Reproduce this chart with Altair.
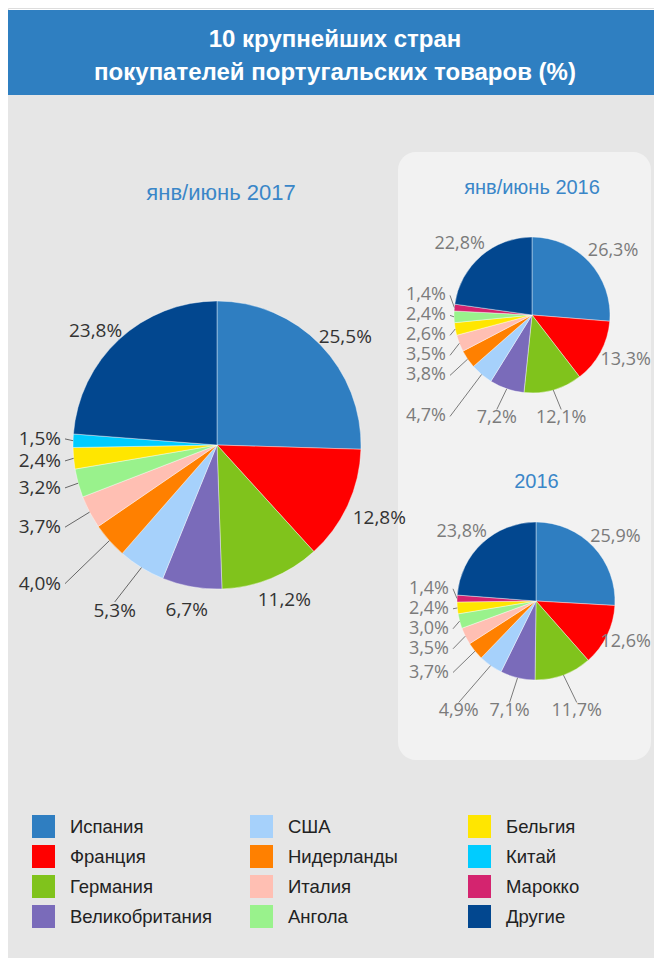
import math
import altair as alt
import pandas as pd

# ---------------- data ----------------
countries = ["Испания", "Франция", "Германия", "Великобритания", "США", "Нидерланды",
             "Италия", "Ангола", "Бельгия", "Китай", "Марокко", "Другие"]
colors = ["#2f7ec1", "#ff0000", "#80c31c", "#7a6bba", "#a6d1fb", "#ff8000",
          "#ffbfb3", "#99f28c", "#ffe600", "#00ccff", "#d4246f", "#02478f"]

# shares (%) aligned with `countries`; None = not among the top 10 for that period
share_h1_2017 = [25.5, 12.8, 11.2, 6.7, 5.3, 4.0, 3.7, 3.2, 2.4, 1.5, None, 23.8]
share_h1_2016 = [26.3, 13.3, 12.1, 7.2, 4.7, 3.8, 3.5, 2.4, 2.6, None, 1.4, 22.8]
share_2016 = [25.9, 12.6, 11.7, 7.1, 4.9, 3.7, 3.5, 3.0, 2.4, None, 1.4, 23.8]

pie_titles = ["янв/июнь 2017", "янв/июнь 2016", "2016"]
header_lines = ["10 крупнейших стран", "покупателей португальских товаров (%)"]

# ---------------- layout / style ----------------
W, H = 646, 950
pies = [
    dict(name=pie_titles[0], shares=share_h1_2017, cx=209, cy=437, r=144, T=6, fs=19,
         gap=8, dy=5, side_m=12, bottom_m=22, spacing=22, tcolor="#333333", lcolor="#666666"),
    dict(name=pie_titles[1], shares=share_h1_2016, cx=524, cy=307, r=78, T=13, fs=18,
         gap=7, dy=0, side_m=8, bottom_m=25, spacing=20, tcolor="#7b7b7b", lcolor="#7b7b7b"),
    dict(name=pie_titles[2], shares=share_2016, cx=528, cy=593, r=79, T=12, fs=18,
         gap=5, dy=0, side_m=8, bottom_m=31, spacing=20, tcolor="#7b7b7b", lcolor="#7b7b7b"),
]


def fmt(v):
    return f"{v:.1f}".replace(".", ",") + "%"


def text_w(s, fs):
    w = 0.0
    for ch in s:
        if ch.isdigit():
            w += 0.572 * fs
        elif ch == ",":
            w += 0.258 * fs
        elif ch == "%":
            w += 0.838 * fs
        else:
            w += 0.5 * fs
    return w


def distribute(items, s):
    if not items:
        return
    groups = [[o] for o in items]

    def start(g):
        m = sum(o["ly0"] for o in g) / len(g)
        return m - (len(g) - 1) * s / 2

    merged = True
    while merged:
        merged = False
        for i in range(len(groups) - 1):
            if start(groups[i]) + len(groups[i]) * s > start(groups[i + 1]):
                groups[i] = groups[i] + groups.pop(i + 1)
                merged = True
                break
    for g in groups:
        st = start(g)
        for k, o in enumerate(g):
            o["ly"] = st + k * s


slice_rows, label_rows, line_rows = [], [], []
for p in pies:
    items = [(c, v) for c, v in zip(countries, p["shares"]) if v is not None]
    others = [it for it in items if it[0] == "Другие"]
    top = sorted([it for it in items if it[0] != "Другие"], key=lambda t: -t[1])
    ordered = top + others
    total = sum(v for _, v in ordered)
    cx, cy, r, fs = p["cx"], p["cy"], p["r"], p["fs"]
    cum = 0.0
    recs = []
    for k, (c, v) in enumerate(ordered):
        slice_rows.append(dict(pie=p["name"], country=c, value=v, order=k))
        a = (cum + v / 2) / total * 2 * math.pi
        cum += v
        ux, uy = math.sin(a), -math.cos(a)
        lab = fmt(v)
        w, h = text_w(lab, fs), fs + 1
        rec = dict(pie=p["name"], label=lab, tcolor=p["tcolor"], fs=fs, w=w, h=h,
                   rx=cx + r * ux, ry=cy + r * uy, edge=None)
        if v >= p["T"]:
            R = r + p["gap"]
            lx = cx + R * ux + w / 2 * ux
            lx = min(max(lx, w / 2 + 3), W - 3 - w / 2)   # keep inside the canvas
            rec.update(lx=lx, ly=cy + R * uy + h / 2 * uy + p["dy"], align="center")
        else:
            xl, xr = cx - r - p["side_m"], cx + r + p["side_m"]
            yb, yt = cy + r + p["bottom_m"], cy - r - p["bottom_m"]
            ts = []
            if ux < -1e-9:
                ts.append(((cx - xl) / -ux, "W"))
            if ux > 1e-9:
                ts.append(((xr - cx) / ux, "E"))
            if uy > 1e-9:
                ts.append(((yb - cy) / uy, "S"))
            if uy < -1e-9:
                ts.append(((cy - yt) / -uy, "N"))
            t, edge = min(ts)
            if edge == "W":
                rec.update(lx=xl, ly=cy + t * uy, align="right")
            elif edge == "E":
                rec.update(lx=xr, ly=cy + t * uy, align="left")
            elif edge == "S":
                rec.update(lx=cx + t * ux, ly=yb, align="center")
            else:
                rec.update(lx=cx + t * ux, ly=yt, align="center")
            rec["edge"] = edge
        rec["ly0"] = rec["ly"]
        recs.append(rec)
    for side in ("W", "E"):
        distribute(sorted([o for o in recs if o["edge"] == side], key=lambda o: o["ly0"]),
                   p["spacing"])
    for o in recs:
        label_rows.append(dict(pie=o["pie"], label=o["label"], lx=o["lx"], ly=o["ly"],
                               align=o["align"], tcolor=o["tcolor"], fs=o["fs"]))
        if o["edge"] is not None:
            if o["edge"] == "W":
                ex, ey = o["lx"] + 4, o["ly"]
            elif o["edge"] == "E":
                ex, ey = o["lx"] - 4, o["ly"]
            elif o["edge"] == "S":
                ex, ey = o["lx"], o["ly"] - o["h"] / 2 + 1
            else:
                ex, ey = o["lx"], o["ly"] + o["h"] / 2
            line_rows.append(dict(pie=o["pie"], x1=o["rx"], y1=o["ry"], x2=ex, y2=ey,
                                  lcolor=p["lcolor"]))

slices = pd.DataFrame(slice_rows)
labels = pd.DataFrame(label_rows)
lines = pd.DataFrame(line_rows)
one = pd.DataFrame({"k": [1]})

px_x = alt.Scale(domain=[0, W], range=[0, W], nice=False, zero=False)
px_y = alt.Scale(domain=[0, H], range=[0, H], nice=False, zero=False)

# ---------------- background ----------------
bg_header = alt.Chart(one).mark_rect(color="#2f7fc1").encode(
    x=alt.value(0), x2=alt.value(W), y=alt.value(2), y2=alt.value(87))
bg_body = alt.Chart(one).mark_rect(color="#e6e6e6").encode(
    x=alt.value(0), x2=alt.value(W), y=alt.value(87), y2=alt.value(H))
panel = alt.Chart(one).mark_rect(color="#f2f2f2", cornerRadius=18).encode(
    x=alt.value(390), x2=alt.value(643), y=alt.value(144), y2=alt.value(752))

head1 = alt.Chart(one).mark_text(font="Liberation Sans", fontSize=24, fontWeight="bold",
                                 color="white", align="center", baseline="alphabetic").encode(
    x=alt.value(327), y=alt.value(38.5), text=alt.value(header_lines[0]))
head2 = alt.Chart(one).mark_text(font="Liberation Sans", fontSize=24, fontWeight="bold",
                                 color="white", align="center", baseline="alphabetic").encode(
    x=alt.value(327), y=alt.value(72), text=alt.value(header_lines[1]))

title_pos = [(213, 192, 22), (524, 186, 20), (528.5, 480, 20)]
titles = [
    alt.Chart(one).mark_text(font="Liberation Sans", fontSize=tfs, color="#3a86c8",
                             align="center", baseline="alphabetic").encode(
        x=alt.value(tx), y=alt.value(ty), text=alt.value(t))
    for t, (tx, ty, tfs) in zip(pie_titles, title_pos)
]

# ---------------- pies ----------------
color_enc = alt.Color(
    "country:N",
    scale=alt.Scale(domain=countries, range=colors),
    legend=alt.Legend(
        title=None, orient="none", legendX=24, legendY=807, columns=3, direction="vertical",
        symbolType="square", symbolSize=529, symbolStrokeWidth=0, symbolOpacity=1,
        labelFont="Liberation Sans", labelFontSize=18.5, labelColor="#222222",
        labelOffset=15, rowPadding=7, columnPadding=37, gridAlign="all",
        padding=0, labelLimit=300,
    ),
)

arcs = []
for p in pies:
    arcs.append(
        alt.Chart(slices).transform_filter(alt.datum.pie == p["name"])
        .mark_arc(radius=p["r"], stroke="#ffffff", strokeWidth=0.4)
        .encode(
            theta=alt.Theta("value:Q", stack=True),
            color=color_enc,
            order=alt.Order("order:Q"),
            x=alt.value(p["cx"]), y=alt.value(p["cy"]),
        )
    )

rules = alt.Chart(lines).mark_rule(strokeWidth=1).encode(
    x=alt.X("x1:Q", scale=px_x, axis=None),
    y=alt.Y("y1:Q", scale=px_y, axis=None),
    x2="x2:Q", y2="y2:Q",
    stroke=alt.Stroke("lcolor:N", scale=None),
)

texts = [
    alt.Chart(labels).transform_filter((alt.datum.align == al) & (alt.datum.fs == tfs))
    .mark_text(align=al, baseline="middle", font="Open Sans", fontSize=tfs)
    .encode(
        x=alt.X("lx:Q", scale=px_x, axis=None),
        y=alt.Y("ly:Q", scale=px_y, axis=None),
        text="label:N",
        fill=alt.Fill("tcolor:N", scale=None),
    )
    for al in ("left", "center", "right") for tfs in (18, 19)
]

chart = alt.layer(
    bg_header, bg_body, panel, head1, head2, *titles, *arcs, rules, *texts
).resolve_scale(theta="independent").properties(
    width=W, height=H, padding=0,
    autosize=alt.AutoSizeParams(type="none"),
).configure_view(stroke=None).configure(background="white")

chart.save("out.html", embed_options={"renderer": "svg", "actions": False})
